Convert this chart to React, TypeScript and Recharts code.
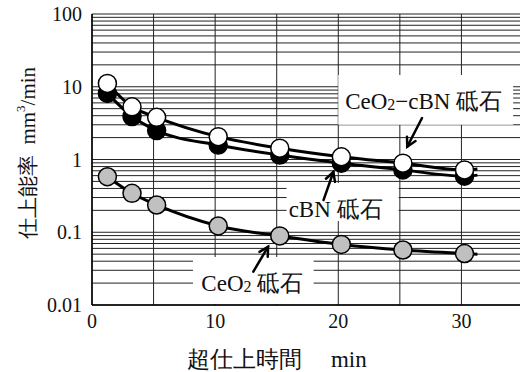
import {
  CartesianGrid,
  ComposedChart,
  Line,
  ReferenceArea,
  ReferenceLine,
  XAxis,
  YAxis
} from 'recharts';

// 超仕上時間 (min) at each measurement
const times = [1.25, 3.25, 5.25, 10.25, 15.25, 20.25, 25.25, 30.25];
// 仕上能率 mm3/min
const ceo2CbnRate = [11.1, 5.3, 3.8, 2.06, 1.43, 1.09, 0.89, 0.72];
const cbnRate = [8.1, 3.9, 2.5, 1.58, 1.15, 0.89, 0.72, 0.59];
const ceo2Rate = [0.58, 0.343, 0.237, 0.122, 0.089, 0.068, 0.057, 0.051];

// fitted curves run a little past the last point
const curveEndTime = 31.3;
const ceo2CbnEnd = 0.74;
const cbnEnd = 0.61;
const ceo2End = 0.05;

const xTicks = [0, 5, 10, 15, 20, 25, 30, 35];
const xLabels = [0, 10, 20, 30];
const yDecades = [0.01, 0.1, 1, 10, 100];
const yMinor = [2, 3, 4, 5, 6, 7, 8, 9];
const yTicks = yDecades.flatMap((d) =>
  d === 100 ? [d] : [d, ...yMinor.map((m) => +(d * m).toPrecision(3))]
);

const FONT = 'Liberation Serif, Tinos, serif';

const build = (vals: number[], end: number) => [
  ...times.map((t, i) => ({ x: t, y: vals[i] })),
  { x: curveEndTime, y: end, end: true }
];

const ceo2CbnData = build(ceo2CbnRate, ceo2CbnEnd);
const cbnData = build(cbnRate, cbnEnd);
const ceo2Data = build(ceo2Rate, ceo2End);

const marker = (fill: string) => (props: any) => {
  const { cx, cy, payload, index } = props;
  if (payload.end) return <g key={index} />;
  return <circle key={index} cx={cx} cy={cy} r={9} fill={fill} stroke="#000" strokeWidth={1.5} />;
};

const arrow = (props: any) => {
  const { x1, y1, x2, y2 } = props;
  if (x1 == null) return <g />;
  const a = Math.atan2(y2 - y1, x2 - x1);
  const len = 10;
  const spread = 0.5;
  const h1x = x2 - len * Math.cos(a - spread);
  const h1y = y2 - len * Math.sin(a - spread);
  const h2x = x2 - len * Math.cos(a + spread);
  const h2y = y2 - len * Math.sin(a + spread);
  return (
    <g stroke="#000" strokeWidth={2.5} fill="none" strokeLinecap="round">
      <line x1={x1} y1={y1} x2={x2} y2={y2} />
      <polyline points={`${h1x},${h1y} ${x2},${y2} ${h2x},${h2y}`} />
    </g>
  );
};

const boxText = (kind: 'mix' | 'cbn' | 'ceo2', dx: number, dy: number) => (props: any) => {
  const vb = props.viewBox;
  const x = vb.x + vb.width / 2 + dx;
  const y = vb.y + vb.height / 2 + dy;
  return (
    <text x={x} y={y} textAnchor="middle" dominantBaseline="central" fontSize={23} style={{ fontFamily: FONT }} fill="#111">
      {kind === 'cbn' && <tspan>cBN 砥石</tspan>}
      {kind === 'mix' && (
        <>
          <tspan>CeO</tspan>
          <tspan fontSize={16} dy={3}>2</tspan>
          <tspan dy={-3}>−cBN 砥石</tspan>
        </>
      )}
      {kind === 'ceo2' && (
        <>
          <tspan>CeO</tspan>
          <tspan fontSize={16} dy={3}>2</tspan>
          <tspan dy={-3}> 砥石</tspan>
        </>
      )}
    </text>
  );
};

export default function App() {
  return (
    <div style={{ position: 'absolute', left: 0, top: 0, width: 520, height: 372, overflow: 'hidden', background: '#fff', fontFamily: FONT }}>
      <ComposedChart width={523} height={372} margin={{ top: 14, right: 0, bottom: 0, left: 0 }}>
        <CartesianGrid stroke="#222" strokeWidth={1} />
        <XAxis
          dataKey="x"
          type="number"
          domain={[0, 35]}
          ticks={xTicks}
          allowDataOverflow
          height={67}
          tickLine={false}
          tickSize={0}
          tickMargin={9}
          axisLine={{ stroke: '#000', strokeWidth: 1.5 }}
          tick={{ fill: '#111', fontSize: 20, style: { fontFamily: FONT } }}
          tickFormatter={(v: number) => (xLabels.includes(v) ? String(v) : '')}
          label={{
            content: (p: any) => (
              <text x={p.viewBox.x + 185} y={p.viewBox.y + 54} textAnchor="middle" dominantBaseline="central" fontSize={23} style={{ fontFamily: FONT, whiteSpace: 'pre' }} fill="#111">
                超仕上時間　 min
              </text>
            )
          }}
        />
        <YAxis
          dataKey="y"
          scale="log"
          domain={[0.01, 100]}
          ticks={yTicks}
          allowDataOverflow
          width={92}
          tickLine={false}
          tickSize={0}
          tickMargin={10}
          interval={0}
          axisLine={{ stroke: '#000', strokeWidth: 1.5 }}
          tick={{ fill: '#111', fontSize: 20, style: { fontFamily: FONT } }}
          tickFormatter={(v: number) => (yDecades.includes(v) ? String(v) : '')}
          label={{
            content: () => (
              <text x={28} y={153} transform="rotate(-90, 28, 153)" textAnchor="middle" dominantBaseline="central" fontSize={21} style={{ fontFamily: FONT, whiteSpace: 'pre' }} fill="#111">
                <tspan>仕上能率  mm</tspan>
                <tspan fontSize={13} dy={-8}>3</tspan>
                <tspan dy={8}>/min</tspan>
              </text>
            )
          }}
        />
        <ReferenceArea x1={20} x2={34.2} y1={3.0} y2={14.5} fill="#fff" fillOpacity={1} stroke="none" label={boxText('mix', -2, 1)} />
        <ReferenceArea x1={15.8} x2={24.9} y1={0.143} y2={0.475} fill="#fff" fillOpacity={1} stroke="none" label={boxText('cbn', -7, 7)} />
        <ReferenceArea x1={8.2} x2={18} y1={0.0103} y2={0.0457} fill="#fff" fillOpacity={1} stroke="none" label={boxText('ceo2', -1, 2)} />
        <ReferenceLine segment={[{ x: 26.8, y: 3.72 }, { x: 25.6, y: 1.5 }]} shape={arrow} />
        <ReferenceLine segment={[{ x: 18.8, y: 0.277 }, { x: 19.6, y: 0.673 }]} shape={arrow} />
        <ReferenceLine segment={[{ x: 13.1, y: 0.0287 }, { x: 14.3, y: 0.0633 }]} shape={arrow} />
        <Line data={ceo2Data} dataKey="y" type="monotone" stroke="#000" strokeWidth={3} dot={marker('#c0c0c0')} activeDot={false} isAnimationActive={false} />
        <Line data={cbnData} dataKey="y" type="monotone" stroke="#000" strokeWidth={3} dot={marker('#000')} activeDot={false} isAnimationActive={false} />
        <Line data={ceo2CbnData} dataKey="y" type="monotone" stroke="#000" strokeWidth={3} dot={marker('#fff')} activeDot={false} isAnimationActive={false} />
      </ComposedChart>
    </div>
  );
}
